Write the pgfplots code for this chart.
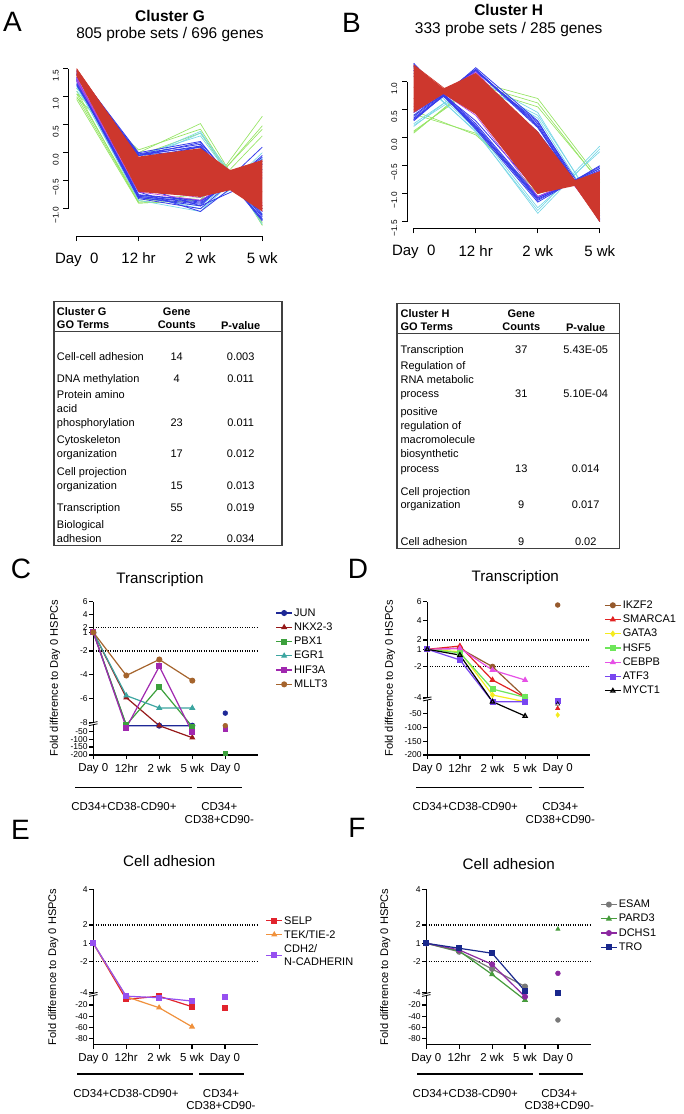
\documentclass[border=0pt]{standalone}
\usepackage{fontspec}
\setmainfont{Liberation Sans}
\usepackage{pgfplots}
\pgfplotsset{compat=1.18}
\definecolor{cgreen}{RGB}{150,228,100}
\definecolor{ccyan}{RGB}{120,215,230}
\definecolor{cblue}{RGB}{55,60,235}
\definecolor{cmag}{RGB}{180,70,225}
\definecolor{cred}{RGB}{205,55,45}
\definecolor{jun}{RGB}{30,40,150}
\definecolor{nkx}{RGB}{150,25,25}
\definecolor{pbx}{RGB}{60,160,60}
\definecolor{egr}{RGB}{60,165,160}
\definecolor{hif}{RGB}{160,40,175}
\definecolor{mll}{RGB}{165,100,45}
\definecolor{ikz}{RGB}{150,90,45}
\definecolor{sma}{RGB}{225,35,35}
\definecolor{gat}{RGB}{245,235,30}
\definecolor{hsf}{RGB}{110,230,90}
\definecolor{ceb}{RGB}{230,80,230}
\definecolor{atf}{RGB}{120,70,240}
\definecolor{sel}{RGB}{225,35,45}
\definecolor{tek}{RGB}{240,145,60}
\definecolor{cdh}{RGB}{150,80,240}
\definecolor{esa}{RGB}{120,120,120}
\definecolor{par}{RGB}{70,155,60}
\definecolor{dch}{RGB}{140,40,160}
\definecolor{tro}{RGB}{25,40,140}
\newcommand{\tfont}{\fontsize{8.25}{10}\selectfont}
\newcommand{\tl}[3]{\node[anchor=base west,inner sep=0pt,font=\tfont] at ({#1},{#2+3.7}) {#3};}
\newcommand{\tc}[3]{\node[anchor=base,inner sep=0pt,font=\tfont] at ({#1},{#2+3.7}) {#3};}
\newcommand{\gfont}{\fontsize{8.6}{10}\selectfont}
\pgfplotsset{
  legend image code/.code={\draw[mark repeat=2,mark phase=2,#1] plot coordinates {(0pt,0pt) (6pt,0pt) (12pt,0pt)};},
  gl/.style={cgreen, line width=0.5pt},
  cl/.style={ccyan, line width=0.5pt},
  bl/.style={cblue, line width=0.6pt},
  ml/.style={cmag, line width=0.5pt},
  rl/.style={cred, line width=0.5pt},
  clusterax/.style={scale only axis, clip=false, enlargelimits=false,
     axis x line*=bottom, axis y line*=left, axis line style={draw=none},
     tick align=outside, major tick length=3.75pt,
     tick style={black, line width=0.7pt},
     xtick={1,2,3,4}, xticklabels={Day\ \ 0,12 hr,2 wk,5 wk},
     xticklabel style={font=\fontsize{11.25}{13}\selectfont, anchor=north, yshift=-5.5pt},
     yticklabel style={rotate=90, anchor=south, font=\fontsize{6.2}{7}\selectfont, xshift=-5pt}},
  foldax/.style={scale only axis, clip=false, enlargelimits=false,
     axis x line*=bottom, axis y line*=left, axis line style={line width=1.1pt},
     tick align=outside, major tick length=3pt, tick style={black, line width=0.9pt},
     xmin=0, xmax=5, xtick={0,1,2,3,4}, xticklabels={Day 0,12hr,2 wk,5 wk,Day 0},
     xticklabel style={font=\fontsize{8.6}{10}\selectfont},
     yticklabel style={font=\fontsize{6.4}{7}\selectfont, inner sep=1pt},
     ylabel={Fold difference to Day 0 HSPCs},
     ylabel style={font=\fontsize{8.3}{10}\selectfont, anchor=center},
     legend style={draw=none, fill=none, anchor=north west, font=\fontsize{8.25}{9.5}\selectfont, inner sep=0pt, row sep=0.8pt, nodes={inner sep=1pt, text height=6.2pt, text depth=1.7pt}},
     legend cell align=left,
     mark size=1.8pt},
  pl/.style={line width=0.9pt, mark options={solid}},
  dl/.style={black, densely dotted, line width=0.8pt, forget plot},
}
\begin{document}
\begin{tikzpicture}[x=0.75pt,y=-0.75pt]
\useasboundingbox (0,0) rectangle (684,1114);
% ---------------- Panel A ----------------
\node[font=\fontsize{21}{24}\selectfont, inner sep=0pt] at (12.5,22) {A};
\node[font=\fontsize{11.6}{14}\selectfont\bfseries, inner sep=0pt] at (170,15.5) {Cluster G};
\node[font=\fontsize{11.6}{14}\selectfont, inner sep=0pt] at (170,34) {805 probe sets / 696 genes};
\begin{axis}[clusterax, at={({68.3*0.75pt},{-236*0.75pt})}, anchor=south west, width=150.15pt, height=131.8pt,
  xmin=0.864, xmax=4.1, ymin=-1.4875, ymax=1.65,
  ytick={-1,-0.5,0,0.5,1,1.5}, yticklabels={−1.0,−0.5,0.0,0.5,1.0,1.5}]
\addplot[gl] coordinates {(1,0.95) (2,-0.90) (3,-0.85) (4,0.65)};
\addplot[gl] coordinates {(1,1.00) (2,-0.88) (3,-0.80) (4,0.48)};
\addplot[gl] coordinates {(1,1.05) (2,-0.85) (3,-0.75) (4,0.42)};
\addplot[gl] coordinates {(1,1.10) (2,-0.90) (3,-0.85) (4,0.30)};
\addplot[gl] coordinates {(1,1.15) (2,0.00) (3,0.52) (4,-1.30)};
\addplot[gl] coordinates {(1,1.05) (2,0.05) (3,0.42) (4,-1.28)};
\addplot[gl] coordinates {(1,0.98) (2,-0.05) (3,0.35) (4,-1.25)};
\addplot[cl] coordinates {(1,1.20) (2,-0.85) (3,-1.05) (4,0.00)};
\addplot[cl] coordinates {(1,1.15) (2,-0.10) (3,0.38) (4,-1.28)};
\addplot[cl] coordinates {(1,1.25) (2,-0.05) (3,0.30) (4,-1.20)};
\addplot[cl] coordinates {(1,1.18) (2,-0.80) (3,-0.95) (4,-0.10)};
\addplot[cl] coordinates {(1,1.10) (2,-0.15) (3,0.35) (4,-1.10)};
\addplot[cl] coordinates {(1,1.22) (2,-0.75) (3,-1.00) (4,-0.30)};
\addplot[bl] coordinates {(1,1.45) (2,0.00) (3,0.20) (4,-1.15)};
\addplot[bl] coordinates {(1,1.40) (2,-0.02) (3,0.15) (4,-1.20)};
\addplot[bl] coordinates {(1,1.35) (2,-0.05) (3,0.18) (4,-1.10)};
\addplot[bl] coordinates {(1,1.30) (2,-0.80) (3,-0.95) (4,0.10)};
\addplot[bl] coordinates {(1,1.25) (2,-0.82) (3,-1.00) (4,-0.05)};
\addplot[bl] coordinates {(1,1.28) (2,-0.78) (3,-0.90) (4,-0.15)};
\addplot[bl] coordinates {(1,1.32) (2,-0.75) (3,-0.85) (4,-0.30)};
\addplot[bl] coordinates {(1,1.38) (2,-0.10) (3,0.10) (4,-1.05)};
\addplot[bl] coordinates {(1,1.22) (2,-0.70) (3,-1.05) (4,-0.20)};
\addplot[bl] coordinates {(1,1.42) (2,-0.05) (3,0.05) (4,-1.00)};
\addplot[bl] coordinates {(1,1.20) (2,-0.60) (3,-0.95) (4,-0.45)};
\addplot[bl] coordinates {(1,1.35) (2,-0.20) (3,0.12) (4,-1.22)};
\addplot[bl] coordinates {(1,1.47) (2,-0.05) (3,0.12) (4,-1.12)};
\addplot[bl] coordinates {(1,1.43) (2,-0.03) (3,0.10) (4,-1.18)};
\addplot[bl] coordinates {(1,1.33) (2,-0.78) (3,-0.88) (4,-0.12)};
\addplot[bl] coordinates {(1,1.29) (2,-0.80) (3,-0.92) (4,-0.08)};
\addplot[bl] coordinates {(1,1.31) (2,-0.76) (3,-0.86) (4,-0.20)};
\addplot[ml] coordinates {(1,1.40) (2,-0.15) (3,0.00) (4,-1.05)};
\addplot[ml] coordinates {(1,1.30) (2,-0.70) (3,-0.85) (4,-0.20)};
\addplot[ml] coordinates {(1,1.35) (2,-0.30) (3,-0.10) (4,-0.95)};
\addplot[ml] coordinates {(1,1.28) (2,-0.60) (3,-0.75) (4,-0.35)};
\addplot[ml] coordinates {(1,1.45) (2,-0.10) (3,0.05) (4,-0.90)};
\addplot[ml] coordinates {(1,1.33) (2,-0.65) (3,-0.80) (4,-0.25)};
\addplot[cred, fill=cred, draw=none] coordinates {(1,1.50) (2,-0.07) (3,0.08) (3.48,-0.31) (4,-0.13) (4,-1.05) (3.48,-0.67) (3,-0.79) (2,-0.70) (1,1.36)} -- cycle;
\addplot[rl] coordinates {(1,1.50) (2,-0.10) (3,0.05) (4,-1.00)};
\addplot[rl] coordinates {(1,1.40) (2,-0.65) (3,-0.75) (4,-0.15)};
\addplot[rl] coordinates {(1,1.45) (2,-0.40) (3,-0.30) (4,-0.70)};
\addplot[rl] coordinates {(1,1.38) (2,-0.55) (3,-0.60) (4,-0.40)};
\addplot[rl] coordinates {(1,1.48) (2,-0.20) (3,-0.10) (4,-0.95)};
\draw[line width=0.75pt] (axis cs:0.864,-1) -- (axis cs:0.864,1.5);
\draw[line width=0.75pt] (axis cs:1,-1.4875) -- (axis cs:4,-1.4875);
\end{axis}
% ---------------- Panel B ----------------
\node[font=\fontsize{21}{24}\selectfont, inner sep=0pt] at (351.5,22.5) {B};
\node[font=\fontsize{11.6}{14}\selectfont\bfseries, inner sep=0pt] at (508.7,10) {Cluster H};
\node[font=\fontsize{11.6}{14}\selectfont, inner sep=0pt] at (508.7,29) {333 probe sets / 285 genes};
\begin{axis}[clusterax, at={({407*0.75pt},{-228.3*0.75pt})}, anchor=south west, width=149.25pt, height=127.6pt,
  xmin=0.892, xmax=4.1, ymin=-1.618, ymax=1.42,
  ytick={-1.5,-1,-0.5,0,0.5,1}, yticklabels={−1.5,−1.0,−0.5,0.0,0.5,1.0}]
\addplot[gl] coordinates {(1,0.08) (2,1.00) (3,0.70) (4,-0.75)};
\addplot[gl] coordinates {(1,0.10) (2,0.95) (3,0.62) (4,-0.80)};
\addplot[gl] coordinates {(1,0.48) (2,0.05) (3,-0.95) (4,-0.72)};
\addplot[gl] coordinates {(1,0.42) (2,0.08) (3,-1.00) (4,-0.68)};
\addplot[gl] coordinates {(1,0.12) (2,0.90) (3,0.55) (4,-0.78)};
\addplot[cl] coordinates {(1,0.20) (2,1.05) (3,0.45) (4,-1.35)};
\addplot[cl] coordinates {(1,1.15) (2,0.10) (3,-1.30) (4,-0.15)};
\addplot[cl] coordinates {(1,1.10) (2,0.12) (3,-1.35) (4,-0.20)};
\addplot[cl] coordinates {(1,0.22) (2,0.95) (3,0.40) (4,-1.30)};
\addplot[cl] coordinates {(1,1.20) (2,0.15) (3,-1.25) (4,-0.25)};
\addplot[cl] coordinates {(1,0.25) (2,1.00) (3,0.35) (4,-1.40)};
\addplot[bl] coordinates {(1,0.30) (2,1.25) (3,0.30) (4,-1.50)};
\addplot[bl] coordinates {(1,0.35) (2,1.20) (3,0.25) (4,-1.45)};
\addplot[bl] coordinates {(1,0.40) (2,1.22) (3,0.20) (4,-1.48)};
\addplot[bl] coordinates {(1,0.33) (2,1.18) (3,0.28) (4,-1.40)};
\addplot[bl] coordinates {(1,1.33) (2,0.15) (3,-1.15) (4,-0.50)};
\addplot[bl] coordinates {(1,1.30) (2,0.20) (3,-1.10) (4,-0.55)};
\addplot[bl] coordinates {(1,1.25) (2,0.18) (3,-1.12) (4,-0.52)};
\addplot[bl] coordinates {(1,1.28) (2,0.25) (3,-1.05) (4,-0.60)};
\addplot[bl] coordinates {(1,0.45) (2,1.10) (3,0.10) (4,-1.35)};
\addplot[bl] coordinates {(1,1.20) (2,0.30) (3,-0.95) (4,-0.65)};
\addplot[bl] coordinates {(1,0.32) (2,1.22) (3,0.22) (4,-1.47)};
\addplot[bl] coordinates {(1,1.31) (2,0.17) (3,-1.08) (4,-0.55)};
\addplot[bl] coordinates {(1,0.38) (2,1.20) (3,0.18) (4,-1.46)};
\addplot[bl] coordinates {(1,1.27) (2,0.22) (3,-1.07) (4,-0.58)};
\addplot[ml] coordinates {(1,0.50) (2,1.15) (3,-0.05) (4,-1.40)};
\addplot[ml] coordinates {(1,1.20) (2,0.50) (3,-0.95) (4,-0.65)};
\addplot[ml] coordinates {(1,0.60) (2,1.10) (3,-0.30) (4,-1.20)};
\addplot[ml] coordinates {(1,1.10) (2,0.55) (3,-0.70) (4,-0.90)};
\addplot[ml] coordinates {(1,0.45) (2,1.18) (3,0.00) (4,-1.45)};
\addplot[ml] coordinates {(1,1.15) (2,0.40) (3,-1.05) (4,-0.60)};
\addplot[cred, fill=cred, draw=none] coordinates {(1,1.30) (1.48,0.88) (2,1.15) (3,0.10) (3.6,-0.76) (4,-0.60) (4,-1.50) (3.6,-0.86) (3,-1.00) (2,0.42) (1.48,0.78) (1,0.45)} -- cycle;
\addplot[rl] coordinates {(1,1.30) (2,0.45) (3,-1.00) (4,-0.62)};
\addplot[rl] coordinates {(1,0.55) (2,1.15) (3,0.10) (4,-1.50)};
\addplot[rl] coordinates {(1,0.90) (2,0.80) (3,-0.40) (4,-1.00)};
\addplot[rl] coordinates {(1,1.10) (2,0.60) (3,-0.60) (4,-0.90)};
\addplot[rl] coordinates {(1,0.70) (2,1.00) (3,-0.20) (4,-1.20)};
\draw[line width=0.75pt] (axis cs:0.892,-1.5) -- (axis cs:0.892,1);
\draw[line width=0.75pt] (axis cs:1,-1.618) -- (axis cs:4,-1.618);
\end{axis}
% ---------------- Table A ----------------
\draw[line width=0.8pt, black!75] (54,301.7) rectangle (282,545.7);
\draw[line width=0.8pt, black!75] (54,331.7) -- (282,331.7);
\tl{56.7}{311.7}{\textbf{Cluster G}}
\tl{56.7}{325}{\textbf{GO Terms}}
\tc{176.7}{311.7}{\textbf{Gene}}
\tc{176.7}{325}{\textbf{Counts}}
\tc{240.7}{325.7}{\textbf{P-value}}
\tl{56.7}{356.7}{Cell-cell adhesion} \tc{176.7}{356.7}{14} \tc{240.7}{356.7}{0.003}
\tl{56.7}{378.3}{DNA methylation} \tc{176.7}{378.3}{4} \tc{240.7}{378.3}{0.011}
\tl{56.7}{395}{Protein amino} \tl{56.7}{408.3}{acid} \tl{56.7}{422.3}{phosphorylation} \tc{176.7}{422.3}{23} \tc{240.7}{422.3}{0.011}
\tl{56.7}{440}{Cytoskeleton} \tl{56.7}{454}{organization} \tc{176.7}{454}{17} \tc{240.7}{454}{0.012}
\tl{56.7}{471.7}{Cell projection} \tl{56.7}{485.7}{organization} \tc{176.7}{485.7}{15} \tc{240.7}{485.7}{0.013}
\tl{56.7}{507.5}{Transcription} \tc{176.7}{507.5}{55} \tc{240.7}{507.5}{0.019}
\tl{56.7}{525}{Biological} \tl{56.7}{538.3}{adhesion} \tc{176.7}{538.3}{22} \tc{240.7}{538.3}{0.034}
% ---------------- Table B ----------------
\draw[line width=0.8pt, black!75] (397,303.3) rectangle (619.7,548.3);
\draw[line width=0.8pt, black!75] (397,333.3) -- (619.7,333.3);
\tl{400.3}{313.3}{\textbf{Cluster H}}
\tl{400.3}{326.7}{\textbf{GO Terms}}
\tc{521.3}{313.3}{\textbf{Gene}}
\tc{521.3}{326.7}{\textbf{Counts}}
\tc{585.7}{327.3}{\textbf{P-value}}
\tl{400.3}{349.3}{Transcription} \tc{521.3}{349.3}{37} \tc{585.7}{349.3}{5.43E-05}
\tl{400.3}{366}{Regulation of} \tl{400.3}{380}{RNA metabolic} \tl{400.3}{394}{process} \tc{521.3}{394}{31} \tc{585.7}{394}{5.10E-04}
\tl{400.3}{411.7}{positive} \tl{400.3}{425.7}{regulation of} \tl{400.3}{439.3}{macromolecule} \tl{400.3}{454}{biosynthetic} \tl{400.3}{468.3}{process} \tc{521.3}{468.3}{13} \tc{585.7}{468.3}{0.014}
\tl{400.3}{491.7}{Cell projection} \tl{400.3}{505}{organization} \tc{521.3}{505}{9} \tc{585.7}{505}{0.017}
\tl{400.3}{541.7}{Cell adhesion} \tc{521.3}{541.7}{9} \tc{585.7}{541.7}{0.02}
% ---------------- Panel C ----------------
\node[font=\fontsize{21}{24}\selectfont, inner sep=0pt] at (21,568.5) {C};
\node[font=\fontsize{11.4}{14}\selectfont, inner sep=0pt] at (160,580) {Transcription};
\begin{axis}[foldax, at={({93.3*0.75pt},{-755*0.75pt})}, anchor=south west, width=123.75pt, height=114.98pt,
  y coord trafo/.code={\pgfmathparse{-((((#1)>=4) ? (614.3-((#1)-4)*6.3) : (((#1)>=2) ? (627.7-((#1)-2)*6.65) : (((#1)>=1) ? (632.3-((#1)-1)*4.6) : (((#1)>=-1) ? 632.3 : (((#1)>=-2) ? (632.3+(-1-(#1))*18.7) : (((#1)>=-8) ? (651+(-2-(#1))*11.95) : (724.5+(-8-(#1))*0.159))))))))}},
  ymin=-200, ymax=6,
  ytick={-200,-150,-100,-50,-8,-6,-4,-2,1,2,4,6},
  yticklabels={-200,-150,-100,-50,-8,-6,-4,-2,1,2,4,6},
  ylabel style={at={(axis description cs:-0.232,0.5)}},
  legend style={at={(axis description cs:1.103,0.971)}}]
\addplot[dl] coordinates {(0,2) (5,2)};
\addplot[dl] coordinates {(0,-2) (5,-2)};
\addplot[pl, jun, mark=*] coordinates {(0,1) (1,-15.5) (2,-15.5) (3,-15.5)};
\addlegendentry{JUN}
\addplot[pl, nkx, mark=triangle*] coordinates {(0,1) (1,-5.9) (2,-15.5) (3,-91)};
\addlegendentry{NKX2-3}
\addplot[pl, pbx, mark=square*] coordinates {(0,1) (1,-11) (2,-5.0) (3,-22)};
\addlegendentry{PBX1}
\addplot[pl, egr, mark=triangle*] coordinates {(0,1) (1,-5.73) (2,-6.77) (3,-6.77)};
\addlegendentry{EGR1}
\addplot[pl, hif, mark=square*] coordinates {(0,1) (1,-28) (2,-3.29) (3,-57)};
\addlegendentry{HIF3A}
\addplot[pl, mll, mark=*] coordinates {(0,1) (1,-4.05) (2,-2.71) (3,-4.48)};
\addlegendentry{MLLT3}
\addplot[only marks, jun, mark=*, forget plot] coordinates {(4,-7.2)};
\addplot[only marks, pbx, mark=square*, forget plot] coordinates {(4,-189)};
\addplot[only marks, hif, mark=square*, forget plot] coordinates {(4,-36)};
\addplot[only marks, mll, mark=*, forget plot] coordinates {(4,-15.5)};
\end{axis}
\fill[white] (90.8,722.9) rectangle (95.8,724.3);
\draw[line width=0.6pt] (89,723.4) -- (97.5,721.6);
\draw[line width=0.6pt] (89,725.6) -- (97.5,723.8);
\draw[line width=0.8pt] (75,787.7) -- (191.7,787.7);
\draw[line width=0.8pt] (197,787.7) -- (242,787.7);
\node[font=\gfont, inner sep=0pt] at (124,806.7) {CD34+CD38-CD90+};
\node[font=\gfont, inner sep=0pt] at (219.3,806.7) {CD34+};
\node[font=\gfont, inner sep=0pt] at (219.3,820) {CD38+CD90-};
% ---------------- Panel D ----------------
\node[font=\fontsize{21}{24}\selectfont, inner sep=0pt] at (358,568.5) {D};
\node[font=\fontsize{11.4}{14}\selectfont, inner sep=0pt] at (515.3,578) {Transcription};
\begin{axis}[foldax, at={({427.3*0.75pt},{-755*0.75pt})}, anchor=south west, width=122.25pt, height=114.98pt,
  y coord trafo/.code={\pgfmathparse{-((((#1)>=4) ? (620.7-((#1)-4)*9.5) : (((#1)>=2) ? (640-((#1)-2)*9.65) : (((#1)>=1) ? (649.3-((#1)-1)*9.3) : (((#1)>=-1) ? 649.3 : (((#1)>=-2) ? (649.3+(-1-(#1))*17.4) : (((#1)>=-4) ? (666.7+(-2-(#1))*15.3) : (700.5+(-4-(#1))*0.278))))))))}},
  ymin=-200, ymax=6,
  ytick={-200,-150,-100,-50,-4,-2,1,2,4,6},
  yticklabels={-200,-150,-100,-50,-4,-2,1,2,4,6},
  ylabel style={at={(axis description cs:-0.229,0.5)}},
  legend style={at={(axis description cs:1.084,1.0215)}}]
\addplot[dl] coordinates {(0,2) (5,2)};
\addplot[dl] coordinates {(0,-2) (5,-2)};
\addplot[pl, ikz, mark=*] coordinates {(0,1) (1,1.1) (2,-2.0) (3,-4)};
\addlegendentry{IKZF2}
\addplot[pl, sma, mark=triangle*] coordinates {(0,1) (1,1.35) (2,-2.87) (3,-4)};
\addlegendentry{SMARCA1}
\addplot[pl, gat, mark=diamond*] coordinates {(0,1) (1,-1.14) (2,-3.85) (3,-8.3)};
\addlegendentry{GATA3}
\addplot[pl, hsf, mark=square*] coordinates {(0,1) (1,-1.2) (2,-3.46) (3,-4)};
\addlegendentry{HSF5}
\addplot[pl, ceb, mark=triangle*] coordinates {(0,1) (1,1.1) (2,-2.22) (3,-2.87)};
\addlegendentry{CEBPB}
\addplot[pl, atf, mark=square*] coordinates {(0,1) (1,-1.61) (2,-8.3) (3,-8.3)};
\addlegendentry{ATF3}
\addplot[pl, black, mark=triangle, mark options={solid, fill=white}] coordinates {(0,1) (1,-1.33) (2,-8.3) (3,-59.8)};
\addlegendentry{MYCT1}
\addplot[only marks, ikz, mark=*, forget plot] coordinates {(4,5.65)};
\addplot[only marks, gat, mark=diamond*, forget plot] coordinates {(4,-56)};
\addplot[only marks, sma, mark=triangle*, forget plot] coordinates {(4,-32)};
\addplot[only marks, atf, mark=square*, forget plot] coordinates {(4,-4.7)};
\addplot[only marks, black, mark=triangle, forget plot] coordinates {(4,-16.6)};
\end{axis}
\fill[white] (424.8,698.2) rectangle (429.8,699.6);
\draw[line width=0.6pt] (423,698.7) -- (431.5,696.9);
\draw[line width=0.6pt] (423,700.9) -- (431.5,699.1);
\draw[line width=0.8pt] (416,787.7) -- (532,787.7);
\draw[line width=0.8pt] (538.7,787.7) -- (583.7,787.7);
\node[font=\gfont, inner sep=0pt] at (465.3,806.7) {CD34+CD38-CD90+};
\node[font=\gfont, inner sep=0pt] at (560.3,806.7) {CD34+};
\node[font=\gfont, inner sep=0pt] at (560.3,820) {CD38+CD90-};
% ---------------- Panel E ----------------
\node[font=\fontsize{21}{24}\selectfont, inner sep=0pt] at (20.5,830) {E};
\node[font=\fontsize{11.4}{14}\selectfont, inner sep=0pt] at (169.3,860.7) {Cell adhesion};
\begin{axis}[foldax, at={({93.3*0.75pt},{-1044.56*0.75pt})}, anchor=south west, width=123.4pt, height=116.45pt,
  y coord trafo/.code={\pgfmathparse{-((((#1)>=2) ? (925-((#1)-2)*17.85) : (((#1)>=1) ? (943.3-((#1)-1)*18.3) : (((#1)>=-1) ? 943.3 : (((#1)>=-2) ? (943.3+(-1-(#1))*18.4) : (((#1)>=-4) ? (961.7+(-2-(#1))*15.5) : (996.1+(-4-(#1))*0.557)))))))}},
  ymin=-91, ymax=4,
  ytick={-80,-60,-40,-20,-4,-2,1,2,4},
  yticklabels={-80,-60,-40,-20,-4,-2,1,2,4},
  ylabel style={at={(axis description cs:-0.243,0.5)}},
  legend style={at={(axis description cs:1.046,0.834)}, nodes={text height=, text depth=}, cells={align=left}, row sep=2.6pt}]
\addplot[dl] coordinates {(0,2) (5,2)};
\addplot[dl] coordinates {(0,-2) (5,-2)};
\addplot[pl, sel, mark=square*] coordinates {(0,1) (1,-9.8) (2,-4.2) (3,-23)};
\addlegendentry{SELP}
\addplot[pl, tek, mark=triangle*] coordinates {(0,1) (1,-5) (2,-24.8) (3,-59)};
\addlegendentry{TEK/TIE-2}
\addplot[pl, cdh, mark=square*] coordinates {(0,1) (1,-4.1) (2,-6.9) (3,-12.8)};
\addlegendentry{CDH2/\\N-CADHERIN}
\addplot[only marks, sel, mark=square*, forget plot] coordinates {(4,-24.8)};
\addplot[only marks, tek, mark=triangle*, forget plot] coordinates {(4,-8)};
\addplot[only marks, cdh, mark=square*, forget plot] coordinates {(4,-4.5)};
\end{axis}
\fill[white] (90.8,993.7) rectangle (95.8,995.1);
\draw[line width=0.6pt] (89,994.2) -- (97.5,992.4);
\draw[line width=0.6pt] (89,996.4) -- (97.5,994.6);
\draw[line width=0.8pt] (77.3,1074) -- (193.3,1074);
\draw[line width=0.8pt] (199.3,1074) -- (244,1074);
\node[font=\gfont, inner sep=0pt] at (126,1093.3) {CD34+CD38-CD90+};
\node[font=\gfont, inner sep=0pt] at (221,1093.3) {CD34+};
\node[font=\gfont, inner sep=0pt] at (221,1105.7) {CD38+CD90-};
% ---------------- Panel F ----------------
\node[font=\fontsize{21}{24}\selectfont, inner sep=0pt] at (357,827.5) {F};
\node[font=\fontsize{11.4}{14}\selectfont, inner sep=0pt] at (508.7,864) {Cell adhesion};
\begin{axis}[foldax, at={({426.3*0.75pt},{-1044.56*0.75pt})}, anchor=south west, width=123.4pt, height=116.45pt,
  y coord trafo/.code={\pgfmathparse{-((((#1)>=2) ? (925-((#1)-2)*17.85) : (((#1)>=1) ? (943.3-((#1)-1)*18.3) : (((#1)>=-1) ? 943.3 : (((#1)>=-2) ? (943.3+(-1-(#1))*18.4) : (((#1)>=-4) ? (961.7+(-2-(#1))*15.5) : (996.1+(-4-(#1))*0.557)))))))}},
  ymin=-91, ymax=4,
  ytick={-80,-60,-40,-20,-4,-2,1,2,4},
  yticklabels={-80,-60,-40,-20,-4,-2,1,2,4},
  ylabel style={at={(axis description cs:-0.249,0.5)}},
  legend style={at={(axis description cs:1.056,0.946)}}]
\addplot[dl] coordinates {(0,2) (5,2)};
\addplot[dl] coordinates {(0,-2) (5,-2)};
\addplot[pl, esa, mark=*] coordinates {(0,1) (1,-1.46) (2,-2.47) (3,-3.6)};
\addlegendentry{ESAM}
\addplot[pl, par, mark=triangle*] coordinates {(0,1) (1,-1.42) (2,-2.82) (3,-11)};
\addlegendentry{PARD3}
\addplot[pl, dch, mark=*] coordinates {(0,1) (1,-1.36) (2,-2.17) (3,-5.1)};
\addlegendentry{DCHS1}
\addplot[pl, tro, mark=square*] coordinates {(0,1) (1,-1.27) (2,-1.54) (3,-3.89)};
\addlegendentry{TRO}
\addplot[only marks, esa, mark=*, forget plot] coordinates {(4,-46.9)};
\addplot[only marks, par, mark=triangle*, forget plot] coordinates {(4,1.78)};
\addplot[only marks, dch, mark=*, forget plot] coordinates {(4,-2.75)};
\addplot[only marks, tro, mark=square*, forget plot] coordinates {(4,-4)};
\end{axis}
\fill[white] (423.8,993.7) rectangle (428.8,995.1);
\draw[line width=0.6pt] (422,994.2) -- (430.5,992.4);
\draw[line width=0.6pt] (422,996.4) -- (430.5,994.6);
\draw[line width=0.8pt] (417,1074) -- (532.7,1074);
\draw[line width=0.8pt] (538.7,1074) -- (582.7,1074);
\node[font=\gfont, inner sep=0pt] at (465.3,1093.3) {CD34+CD38-CD90+};
\node[font=\gfont, inner sep=0pt] at (559.3,1093.3) {CD34+};
\node[font=\gfont, inner sep=0pt] at (559.3,1105.7) {CD38+CD90-};
\end{tikzpicture}
\end{document}
